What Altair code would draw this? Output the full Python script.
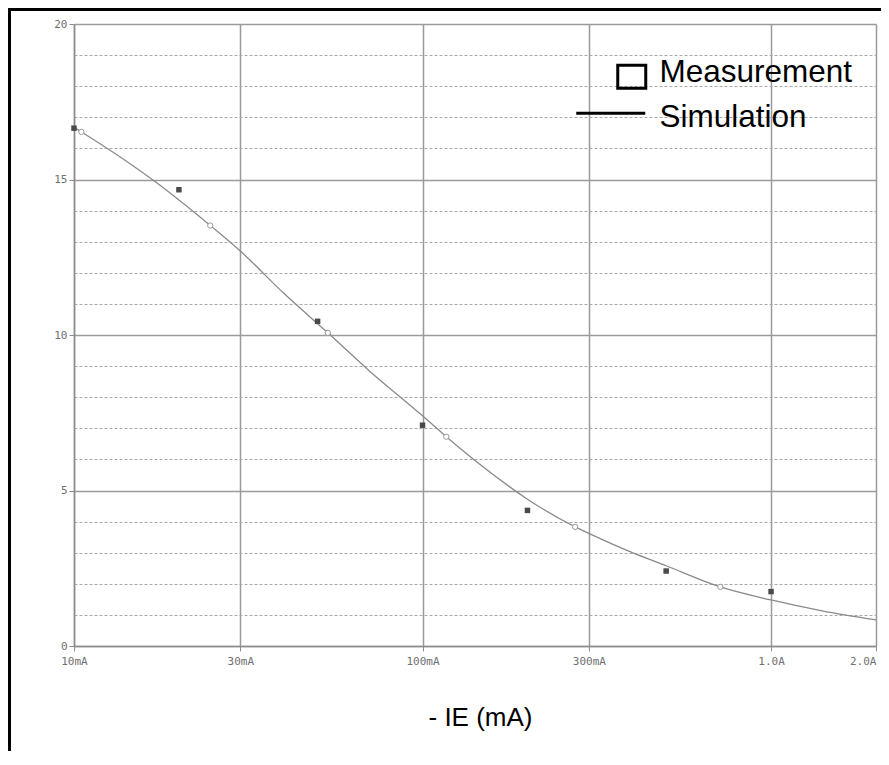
import altair as alt
import pandas as pd

# ---- data ----
meas_x = [10, 20, 50, 100, 200, 500, 1000]            # mA
meas_y = [16.65, 14.67, 10.44, 7.10, 4.36, 2.41, 1.75]

sim_x = [10, 10.5, 14, 17, 24.6, 30, 40, 53.5, 70, 100, 117, 150, 200, 274,
         300, 400, 500, 715, 1000, 1400, 2000]
sim_y = [16.68, 16.53, 15.62, 14.95, 13.52, 12.70, 11.34, 10.07, 8.87, 7.40,
         6.73, 5.74, 4.72, 3.83, 3.62, 3.00, 2.58, 1.90, 1.48, 1.13, 0.84]

marker_x = [10.5, 24.6, 53.5, 117, 274, 715]
marker_y = [16.53, 13.52, 10.07, 6.73, 3.83, 1.90]

x_ticks = [10, 30, 100, 300, 1000, 2000]
x_tick_labels = ["10mA", "30mA", "100mA", "300mA", "1.0A", "2.0A"]
y_ticks = list(range(0, 21))
legend_labels = ["Measurement", "Simulation"]
x_title = "- IE (mA)"

meas_df = pd.DataFrame({"x": meas_x, "y": meas_y})
sim_df = pd.DataFrame({"x": sim_x, "y": sim_y})
mark_df = pd.DataFrame({"x": marker_x, "y": marker_y})
leg_df = pd.DataFrame({"series": legend_labels, "x": [100, 100], "y": [10, 10]})
frame_df = pd.DataFrame({"frame": [0]})

label_expr = " : ".join(
    f"datum.value == {v} ? '{t}'" for v, t in zip(x_ticks, x_tick_labels)
) + " : ''"

grid_gray = "#9a9a9a"
axis_gray = "#8c8c8c"

x_enc = alt.X(
    "x:Q",
    scale=alt.Scale(type="log", domain=[10, 2000], nice=False),
    axis=alt.Axis(
        values=x_ticks,
        tickCount=20,
        labelExpr=label_expr,
        grid=True,
        gridColor=grid_gray,
        gridWidth=1.5,
        domainColor=axis_gray,
        domainWidth=1.5,
        tickColor=axis_gray,
        tickSize=5,
        labelFont="DejaVu Sans Mono",
        labelFontSize=11,
        labelColor="#707070",
        labelPadding=4,
        labelFlush=False,
        labelAlign={"condition": {"test": "datum.value >= 2000", "value": "right"}, "value": "center"},
        titleFont="Liberation Sans",
        titleFontSize=26,
        titleFontWeight="normal",
        titleColor="black",
        titlePadding=38,
        titleX=406,
    ),
    title=x_title,
)

y_enc = alt.Y(
    "y:Q",
    scale=alt.Scale(domain=[0, 20], nice=False),
    axis=alt.Axis(
        values=y_ticks,
        tickCount=30,
        format="d",
        labelExpr="datum.value % 5 == 0 ? format(datum.value, 'd') : ''",
        grid=True,
        gridColor={"condition": {"test": "datum.value % 5 == 0", "value": grid_gray}, "value": "#a8a8a8"},
        gridWidth={"condition": {"test": "datum.value % 5 == 0", "value": 1.5}, "value": 1},
        gridDash={"condition": {"test": "datum.value % 5 == 0", "value": []}, "value": [3, 2]},
        tickOpacity={"condition": {"test": "datum.value % 5 == 0", "value": 1}, "value": 0},
        domainColor=axis_gray,
        domainWidth=1.5,
        tickColor=axis_gray,
        tickSize=5,
        labelFont="DejaVu Sans Mono",
        labelFontSize=11,
        labelColor="#707070",
        labelPadding=2,
    ),
    title=None,
)

frame = alt.Chart(frame_df).mark_rect(
    filled=False, stroke="black", strokeWidth=3
).encode(
    x=alt.value(-64.5), x2=alt.value(900), y=alt.value(-14.5), y2=alt.value(800)
)

sim_line = alt.Chart(sim_df).mark_line(
    color="#8a8a8a", strokeWidth=1.3, interpolate="monotone"
).encode(x=x_enc, y=y_enc)

sim_marks = alt.Chart(mark_df).mark_point(
    shape="circle", fill="white", stroke="#999999", strokeWidth=1, size=28, opacity=1
).encode(x="x:Q", y="y:Q")

meas = alt.Chart(meas_df).mark_point(
    shape="square", filled=True, color="#4a4a4a", size=30, opacity=1
).encode(x="x:Q", y="y:Q")

legend_layer = alt.Chart(leg_df).mark_point(
    filled=False, color="black", strokeWidth=3, opacity=0
).encode(
    x="x:Q",
    y="y:Q",
    shape=alt.Shape(
        "series:N",
        scale=alt.Scale(
            domain=legend_labels,
            range=["M-1.12,-0.6H1.12V1.24H-1.12Z", "M-4.44,-0.4H1.08"],
        ),
        legend=alt.Legend(
            title=None,
            orient="none",
            legendX=542,
            legendY=33,
            symbolSize=625,
            symbolStrokeWidth=3,
            symbolStrokeColor="black",
            symbolFillColor="transparent",
            symbolOpacity=1,
            labelFont="Liberation Sans",
            labelFontSize=31.5,
            labelColor="black",
            labelLimit=0,
            labelOffset=12,
            rowPadding=6.5,
            padding=0,
        ),
    ),
)

chart = alt.layer(frame, sim_line, sim_marks, meas, legend_layer).properties(
    width=802,
    height=622,
    autosize=alt.AutoSizeParams(type="none"),
    padding={"left": 66, "top": 16, "right": 5, "bottom": 105},
    background="white",
).configure_view(stroke=None)

chart.save("out.html", embed_options={"renderer": "svg", "actions": False})
